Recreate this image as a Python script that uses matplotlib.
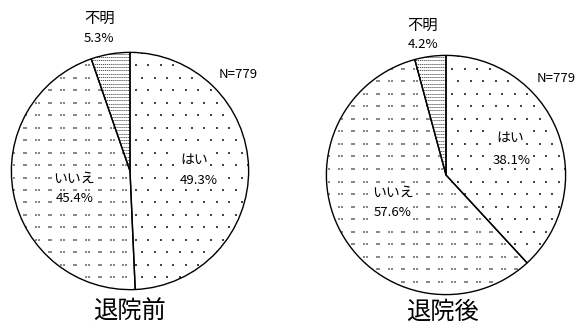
import matplotlib
matplotlib.use("Agg")
import matplotlib.pyplot as plt
import numpy as np

plt.rcParams['font.family'] = ['Noto Sans CJK JP', 'DejaVu Sans']

categories = ["はい", "いいえ", "不明"]
before_values = [49.3, 45.4, 5.3]
after_values = [38.1, 57.6, 4.2]
titles = ["退院前", "退院後"]
n_label = "N=779"

W, H = 579, 327
fig = plt.figure(figsize=(W / 100, H / 100), dpi=100)

def px_axes(cx, cy, r):
    return fig.add_axes([(cx - r) / W, 1 - (cy + r) / H, 2 * r / W, 2 * r / H])

def texture_dots(ax, wedge, step, offset_rows, pair, color, size):
    g = np.arange(-1.0, 1.0001, step)
    xs, ys = [], []
    for i, y in enumerate(g):
        shift = (step / 2) if (offset_rows and i % 2) else 0
        for x in g:
            xs.append(x + shift); ys.append(y)
            if pair:
                xs.append(x + shift + 0.022); ys.append(y)
    sc = ax.scatter(xs, ys, s=size, c=color, marker='s', linewidths=0, zorder=1)
    sc.set_clip_path(wedge)

def texture_lines(ax, wedge, step, color):
    ys = np.arange(-1.0, 1.0001, step)
    lc = ax.hlines(ys, -1, 1, colors=color, linewidth=0.7, linestyles=(0, (1.2, 0.8)), zorder=1)
    lc.set_clip_path(wedge)

def draw(ax, values):
    wedges, _ = ax.pie(values, startangle=90, counterclock=False, radius=1,
                       colors=['white'] * 3,
                       wedgeprops=dict(edgecolor='black', linewidth=1.0, zorder=2, fill=False))
    for w in wedges:
        w.set_zorder(3)
    texture_dots(ax, wedges[0], 0.105, True, False, '#444444', 1.2)
    texture_dots(ax, wedges[1], 0.105, False, True, '#888888', 1.2)
    texture_lines(ax, wedges[2], 0.028, '#555555')
    ax.set_xlim(-1.02, 1.02)
    ax.set_ylim(-1.02, 1.02)
    ax.set_aspect('equal')
    ax.axis('off')

ax1 = px_axes(130, 171, 121)
draw(ax1, before_values)
ax2 = px_axes(446, 175, 122)
draw(ax2, after_values)

def t(x, y, s, size=9.5, box=False):
    kw = {}
    if box:
        kw['bbox'] = dict(facecolor='white', edgecolor='none', pad=0.5)
    fig.text(x / W, 1 - y / H, s, ha='center', va='center', fontsize=size, zorder=5, **kw)

# left pie labels
t(100, 18, categories[2], size=11)
t(99, 39, f"{before_values[2]}%")
t(194, 160, categories[0], size=10, box=True)
t(199, 180, f"{before_values[0]}%", box=True)
t(74, 179, categories[1], size=10, box=True)
t(75, 198, f"{before_values[1]}%", box=True)
t(238, 75, n_label)
t(129, 312, titles[0], size=17.5)

# right pie labels
t(423, 25, categories[2], size=11)
t(423, 45, f"{after_values[2]}%")
t(510, 138, categories[0], size=10, box=True)
t(512, 160, f"{after_values[0]}%", box=True)
t(393, 193, categories[1], size=10, box=True)
t(393, 213, f"{after_values[1]}%", box=True)
t(556, 78, n_label)
t(442, 312, titles[1], size=17.5)

fig.savefig("out.png", dpi=100)
